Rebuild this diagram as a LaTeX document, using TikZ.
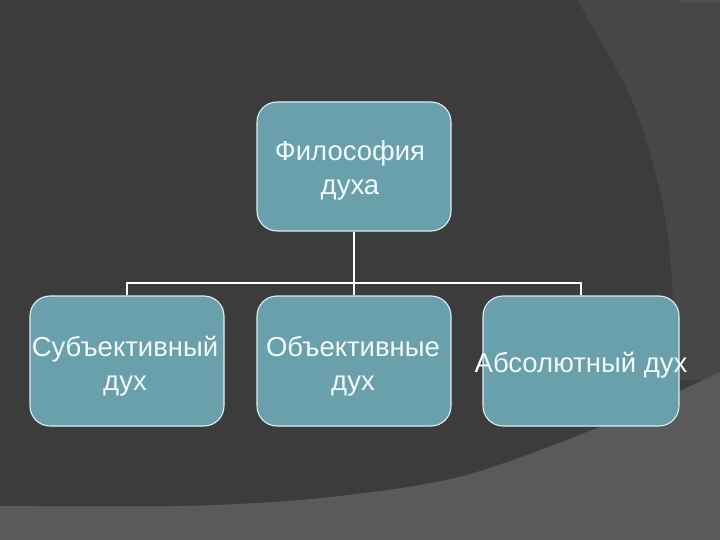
\documentclass[tikz,border=0pt]{standalone}
\usepackage{fontspec}
\setmainfont{Liberation Sans}
\definecolor{bgA}{HTML}{3C3C3C}
\definecolor{bgB}{HTML}{474747}
\definecolor{bgC}{HTML}{5A5A5A}
\definecolor{bgD}{HTML}{4E4E4E}
\definecolor{boxfill}{HTML}{6A9FAC}
\definecolor{boxline}{HTML}{DDEFF2}
\definecolor{txt}{HTML}{F2FAFA}
\tikzset{
  box/.style={draw=boxline, line width=1.1pt, fill=boxfill, rounded corners=20pt,
    minimum width=194pt, minimum height=130pt, inner sep=0pt},
  lbl/.style={text=txt, font=\fontsize{27.5}{34}\selectfont, align=center, inner sep=0pt, anchor=base},
  conn/.style={draw=white, line width=2pt}
}
\begin{document}
\begin{tikzpicture}[x=1pt,y=-1pt]
\useasboundingbox (0,0) rectangle (720,540);
% background
\fill[bgA] (0,0) rectangle (720,540);
\fill[bgB] plot[smooth] coordinates {(577,0) (632,100) (662,200) (672,280) (673,380)} -- (720,380) -- (720,0) -- cycle;
\fill[bgD] (680,0) rectangle (720,3);
\fill[bgC] (0,506) -- plot[smooth] coordinates {(0,506) (184,506) (321,498) (459,477) (597,428) (720,372)} -- (720,540) -- (0,540) -- cycle;
% boxes
\node[box, minimum height=129pt] (top) at (354,166.5) {};
\node[box] (sub) at (127,361) {};
\node[box] (obj) at (354,361) {};
\node[box, minimum width=196pt] (abs) at (581,361) {};
% connectors
\coordinate (bar) at (354,283);
\draw[conn] (top.south) -- (bar);
\draw[conn] (sub.north) |- (abs.north |- bar) -- (abs.north);
\draw[conn] (obj.north) -- (obj.north |- bar);
% labels
\node[lbl] (ttop) at (350,195) {Философия\\духа};
\node[lbl] (tsub) at (125,390) {Субъективный\\дух};
\node[lbl] (tobj) at (353,390) {Объективные\\дух};
\node[lbl] (tabs) at (581,372) {Абсолютный дух};
\end{tikzpicture}
\end{document}
